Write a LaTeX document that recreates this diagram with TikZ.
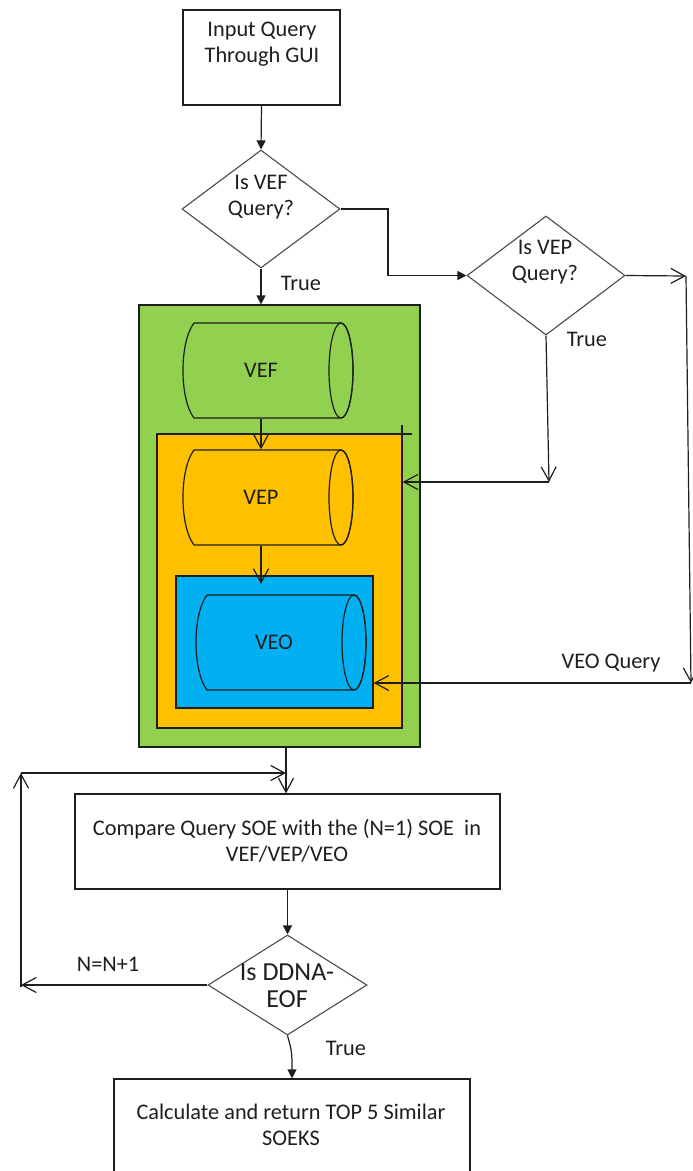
\documentclass[tikz,border=0pt]{standalone}
\usepackage{fontspec}
\setmainfont{Carlito}
\usetikzlibrary{shapes.geometric,arrows.meta}
\definecolor{vgreen}{HTML}{92D050}
\definecolor{vorange}{HTML}{FFC000}
\definecolor{vblue}{HTML}{00B0F0}
\definecolor{ink}{HTML}{1E1E1E}
\newcommand\drawcyl[4]{%
  \draw[draw=ink] ({#1+11},#2) -- (#3,#2)
    arc[start angle=-90,end angle=90,x radius=12,y radius={(#4-#2)/2}]
    -- ({#1+11},#4)
    .. controls ({#1-3.7},{#4-(#4-#2)*0.2}) and ({#1-3.7},{#2+(#4-#2)*0.2}) .. ({#1+11},#2) -- cycle;
  \draw[draw=ink] (#3,{(#2+#4)/2}) ellipse[x radius=12,y radius={(#4-#2)/2}];
}
\begin{document}
\begin{tikzpicture}[x=1pt,y=-1pt,line width=1.2pt,
  procbox/.style={draw=ink,rectangle,inner sep=0pt},
  decision/.style={draw=ink!80,diamond,inner sep=0pt,line width=1.1pt},
  region/.style={draw=ink,rectangle,inner sep=0pt},
  anchorbox/.style={rectangle,inner sep=0pt},
  lbl/.style={font=\fontsize{22.3}{26.5}\selectfont,text=ink,align=center,inner sep=0pt},
  biglbl/.style={font=\fontsize{26}{27}\selectfont,text=ink,align=center,inner sep=0pt},
  oarrow/.style={draw=ink,-{Straight Barb[length=14pt,width=15pt]}},
  farrow/.style={draw=ink,-{Triangle[length=9pt,width=9pt]}},
  conn/.style={draw=ink}]
\useasboundingbox (0,0) rectangle (693,1171);
\clip (0,0) rectangle (693,1171);

% shapes
\node[procbox,minimum width=157pt,minimum height=95pt] (input) at (261.5,57.5) {};
\node[decision,minimum width=158pt,minimum height=118pt] (d1) at (261,209) {};
\node[decision,minimum width=158pt,minimum height=119pt] (d2) at (546,275.5) {};
\node[region,fill=vgreen,minimum width=281pt,minimum height=442pt] (green) at (279.5,526) {};
\node[region,fill=vorange,minimum width=245pt,minimum height=294pt] (orange) at (279.5,581) {};
\node[region,fill=vblue,minimum width=197pt,minimum height=132pt] (blue) at (274.5,642) {};
\drawcyl{183}{323}{341}{418}
\drawcyl{183}{450}{341}{545}
\drawcyl{196}{595}{354}{690}
\node[anchorbox,minimum width=170pt,minimum height=95pt] (vef) at (268,370.5) {};
\node[anchorbox,minimum width=170pt,minimum height=95pt] (vep) at (268,497.5) {};
\node[anchorbox,minimum width=170pt,minimum height=95pt] (veo) at (281,642.5) {};
\node[procbox,minimum width=425pt,minimum height=95pt] (cmp) at (287.5,841.5) {};
\node[decision,minimum width=159pt,minimum height=100pt] (d3) at (287.5,985) {};
\node[procbox,minimum width=356pt,minimum height=110pt] (final) at (292,1134) {};

% texts
\node[lbl] (t1) at (262,44) {Input Query\\Through GUI};
\node[lbl] (t2) at (261,197) {Is VEF\\Query?};
\node[lbl] (t3) at (301,283) {True};
\node[lbl] (t4) at (545,262) {Is VEP\\Query?};
\node[lbl] (t5) at (587,339) {True};
\node[lbl] (t6) at (261,370) {VEF};
\node[lbl] (t7) at (261,497) {VEP};
\node[lbl] (t8) at (274,642) {VEO};
\node[lbl] (t9) at (611,663) {VEO Query};
\node[lbl] (t10) at (287,841) {Compare Query SOE with the (N=1) SOE\ \ in\\VEF/VEP/VEO};
\node[lbl] (t11) at (108,964) {N=N+1};
\node[biglbl] (t12) at (287,986) {Is DDNA-\\EOF};
\node[lbl] (t13) at (346,1048) {True};
\node[lbl] (t14) at (291,1125) {Calculate and return TOP 5 Similar\\SOEKS};

% coordinates
\coordinate (j1) at (388,209);
\coordinate (r1) at (686,276);
\coordinate (r2) at (691,683);
\coordinate (c1) at (549,482);
\coordinate (veotip) at (261,584);
\coordinate (l1) at (21,987);
\coordinate (l2) at (21,773);
\coordinate (l3) at (286,773);

% connectors
\draw[farrow] (input.south) -- (d1.north);
\draw[farrow] (d1.east) -- (j1) |- (d2.west);
\draw[farrow] (d1.south) -- (green.north -| d1.south);
\draw[oarrow] (vef.south -| d1.south) -- (vep.north -| d1.south);
\draw[oarrow] (vep.south -| d1.south) -- (veotip);
\draw[oarrow] (d2.east) -- (r1);
\draw[oarrow] (r1) -- (r2);
\draw[oarrow] (r2) -- (blue.east |- r2);
\draw[oarrow] (d2.south) -- (c1);
\draw[oarrow] (c1) -- (orange.east |- c1);
\draw[conn] (373,434) -- (412,434);
\draw[conn] (402,425) -- (402,492);
\draw[oarrow] (green.south -| l3) -- (cmp.north -| l3);
\draw[farrow] (cmp.south) -- (d3.north);
\draw[oarrow] (d3.west) -- (d3.west -| l1);
\draw[oarrow] (l1) -- (l2);
\draw[oarrow] (l2) -- (l3);
\draw[farrow] (d3.south) .. controls (292,1052) .. (final.north);
\end{tikzpicture}
\end{document}
